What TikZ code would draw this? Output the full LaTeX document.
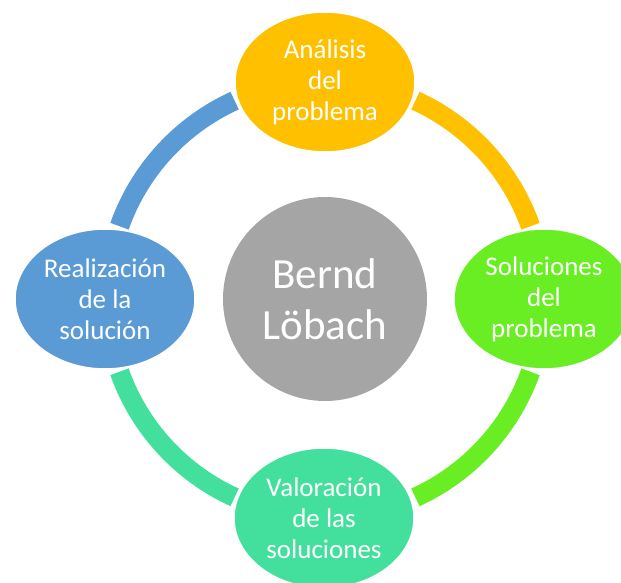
\documentclass[tikz,border=0pt]{standalone}
\usepackage{fontspec}
\setmainfont{Carlito}
\usetikzlibrary{shapes.geometric,calc}
\definecolor{cblue}{HTML}{5B9BD5}
\definecolor{corange}{HTML}{FFC000}
\definecolor{cgreen}{HTML}{69EE24}
\definecolor{cteal}{HTML}{43E09D}
\definecolor{cgray}{HTML}{A5A5A5}
\tikzset{
  stagebox/.style={ellipse, draw=white, line width=1.5pt, minimum width=180pt,
    minimum height=140pt, inner sep=0pt, text=white, align=center,
    font=\fontsize{27}{31}\selectfont},
  hubbox/.style={circle, fill=cgray, minimum size=204pt, inner sep=0pt,
    text=white, align=center, font=\fontsize{43}{51.5}\selectfont},
  ringarc/.style={line width=19.5pt}
}
\begin{document}
\begin{tikzpicture}[x=1pt,y=1pt]
\useasboundingbox (0,0) rectangle (621,-583);
\clip (0,0) rectangle (621,-583);
\coordinate (c) at (325,-299);
% arc end points
\coordinate (a1) at ($(c)+(65.5:218pt)$);
\coordinate (a2) at ($(c)+(-19.5:218pt)$);
\coordinate (a3) at ($(c)+(-114.5:218pt)$);
\coordinate (a4) at ($(c)+(160.5:218pt)$);
\draw[ringarc, corange] (a1) arc[start angle=65.5, end angle=19.5, radius=218pt];
\draw[ringarc, cgreen] (a2) arc[start angle=-19.5, end angle=-65.5, radius=218pt];
\draw[ringarc, cteal] (a3) arc[start angle=-114.5, end angle=-160.5, radius=218pt];
\draw[ringarc, cblue] (a4) arc[start angle=160.5, end angle=114.5, radius=218pt];
% nodes
\node[hubbox] (hub) at (c) {Bernd\\Löbach};
\node[stagebox, fill=corange] (n1) at (325,-82) {Análisis\\del\\problema};
\node[stagebox, fill=cgreen] (n2) at (544,-299) {Soluciones\\del\\problema};
\node[stagebox, fill=cteal] (n3) at (324,-518) {Valoración\\de las\\soluciones};
\node[stagebox, fill=cblue] (n4) at (105,-299) {Realización\\de la\\solución};
\end{tikzpicture}
\end{document}
